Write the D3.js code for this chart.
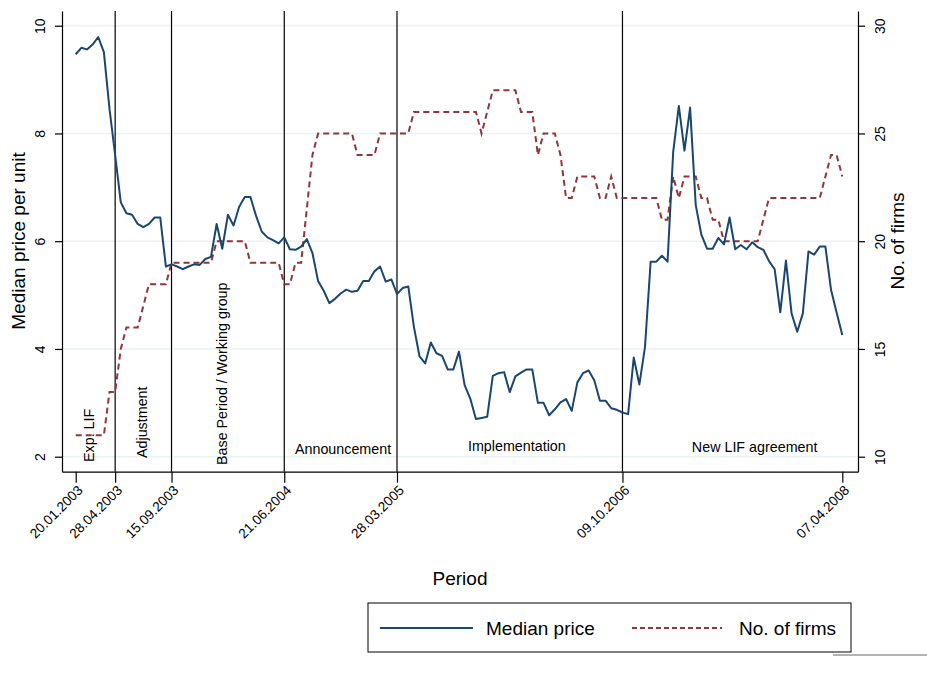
<!DOCTYPE html>
<html lang="en">
<head>
<meta charset="UTF-8">
<title>Median price and number of firms</title>
<script src="https://d3js.org/d3.v7.min.js"></script>
<style>
  body { margin: 0; background: #fff; }
  svg text { font-family: "Liberation Sans", Arial, sans-serif; fill: #000; }
</style>
</head>
<body>
<svg id="chart"></svg>
<script>
// biweekly observations
const dates = [
  "2003-01-20","2003-02-03","2003-02-17","2003-03-03","2003-03-17","2003-03-31","2003-04-14","2003-04-28","2003-05-12","2003-05-26",
  "2003-06-09","2003-06-23","2003-07-07","2003-07-21","2003-08-04","2003-08-18","2003-09-01","2003-09-15","2003-09-29","2003-10-13",
  "2003-10-27","2003-11-10","2003-11-24","2003-12-08","2003-12-22","2004-01-05","2004-01-19","2004-02-02","2004-02-16","2004-03-01",
  "2004-03-15","2004-03-29","2004-04-12","2004-04-26","2004-05-10","2004-05-24","2004-06-07","2004-06-21","2004-07-05","2004-07-19",
  "2004-08-02","2004-08-16","2004-08-30","2004-09-13","2004-09-27","2004-10-11","2004-10-25","2004-11-08","2004-11-22","2004-12-06",
  "2004-12-20","2005-01-03","2005-01-17","2005-01-31","2005-02-14","2005-02-28","2005-03-14","2005-03-28","2005-04-11","2005-04-25",
  "2005-05-09","2005-05-23","2005-06-06","2005-06-20","2005-07-04","2005-07-18","2005-08-01","2005-08-15","2005-08-29","2005-09-12",
  "2005-09-26","2005-10-10","2005-10-24","2005-11-07","2005-11-21","2005-12-05","2005-12-19","2006-01-02","2006-01-16","2006-01-30",
  "2006-02-13","2006-02-27","2006-03-13","2006-03-27","2006-04-10","2006-04-24","2006-05-08","2006-05-22","2006-06-05","2006-06-19",
  "2006-07-03","2006-07-17","2006-07-31","2006-08-14","2006-08-28","2006-09-11","2006-09-25","2006-10-09","2006-10-23","2006-11-06",
  "2006-11-20","2006-12-04","2006-12-18","2007-01-01","2007-01-15","2007-01-29","2007-02-12","2007-02-26","2007-03-12","2007-03-26",
  "2007-04-09","2007-04-23","2007-05-07","2007-05-21","2007-06-04","2007-06-18","2007-07-02","2007-07-16","2007-07-30","2007-08-13",
  "2007-08-27","2007-09-10","2007-09-24","2007-10-08","2007-10-22","2007-11-05","2007-11-19","2007-12-03","2007-12-17","2007-12-31",
  "2008-01-14","2008-01-28","2008-02-11","2008-02-25","2008-03-10","2008-03-24","2008-04-07"
];

const medianPrice = [
  9.47,9.59,9.56,9.65,9.79,9.51,8.45,7.6,6.72,6.52,
  6.49,6.32,6.26,6.32,6.44,6.44,5.53,5.57,5.53,5.48,
  5.53,5.57,5.56,5.67,5.71,6.32,5.86,6.49,6.29,6.64,
  6.82,6.82,6.47,6.18,6.07,6.02,5.96,6.07,5.85,5.84,
  5.90,6.04,5.78,5.26,5.08,4.85,4.93,5.03,5.10,5.06,
  5.08,5.26,5.26,5.44,5.53,5.25,5.29,5.02,5.13,5.16,
  4.41,3.86,3.73,4.12,3.92,3.87,3.62,3.62,3.95,3.33,
  3.08,2.70,2.72,2.74,3.50,3.55,3.57,3.20,3.49,3.56,
  3.62,3.62,3.00,3.00,2.77,2.88,3.01,3.07,2.85,3.38,
  3.55,3.60,3.42,3.04,3.04,2.90,2.87,2.82,2.79,3.84,
  3.34,4.04,5.62,5.62,5.73,5.62,7.66,8.51,7.68,8.48,
  6.67,6.12,5.86,5.86,6.06,5.94,6.44,5.85,5.93,5.85,
  5.98,5.89,5.84,5.63,5.48,4.68,5.64,4.66,4.32,4.66,
  5.81,5.75,5.90,5.90,5.10,4.67,4.26
];

const noOfFirms = [
  11,11,11,11,11,11,13,13,15,16,
  16,16,17,18,18,18,18,19,19,19,
  19,19,19,19,19,20,20,20,20,20,
  20,19,19,19,19,19,19,18,18,19,
  19,21.5,24,25,25,25,25,25,25,25,
  24,24,24,24,25,25,25,25,25,25,
  26,26,26,26,26,26,26,26,26,26,
  26,26,25,26,27,27,27,27,27,26,
  26,26,24,25,25,25,24,22,22,23,
  23,23,23,22,22,23,22,22,22,22,
  22,22,22,22,21,21,23,22,23,23,
  23,22,22,21,21,20,20,20,20,20,
  20,20,21,22,22,22,22,22,22,22,
  22,22,22,23,24,24,23
];

const tickDates = ["2003-01-20","2003-04-28","2003-09-15","2004-06-21","2005-03-28","2006-10-09","2008-04-07"];
const eventDates = ["2003-04-28","2003-09-15","2004-06-21","2005-03-28","2006-10-09"];
const priceTicks = [2, 4, 6, 8, 10];
const firmTicks = [10, 15, 20, 25, 30];
const phaseLabels = ["Exp. LIF", "Adjustment", "Base Period / Working group", "Announcement", "Implementation", "New LIF agreement"];
const seriesNames = ["Median price", "No. of firms"];

const width = 927, height = 673;
const plot = {left: 62, right: 858, top: 11, bottom: 471.7};
const navy = "#1a476f", maroon = "#90353b";

const parse = d3.timeParse("%Y-%m-%d");
const fmt = d3.timeFormat("%d.%m.%Y");

const svg = d3.select("#chart").attr("width", width).attr("height", height);

// time scale: first and last tick placed, then stretched to the plot edges
const x = d3.scaleTime()
  .domain([parse(tickDates[0]), parse(tickDates[tickDates.length - 1])])
  .range([75.7, 842.3]);
x.domain([x.invert(plot.left), x.invert(plot.right)]).range([plot.left, plot.right]);

const yP = d3.scaleLinear().domain([2, 10]).range([456.7, 25.7]);
yP.domain([yP.invert(plot.bottom), yP.invert(plot.top)]).range([plot.bottom, plot.top]);

const yF = d3.scaleLinear().domain([10, 30]).range([456.7, 25.7]);
yF.domain([yF.invert(plot.bottom), yF.invert(plot.top)]).range([plot.bottom, plot.top]);

const rows = dates.map((d, i) => ({date: parse(d), price: medianPrice[i], firms: noOfFirms[i]}));

// grid lines
svg.append("g").selectAll("line")
  .data(priceTicks).enter().append("line")
  .attr("x1", plot.left).attr("x2", plot.right)
  .attr("y1", d => yP(d)).attr("y2", d => yP(d))
  .attr("stroke", "#eaf2f3").attr("stroke-width", 1.5);

// event lines
svg.append("g").selectAll("line")
  .data(eventDates).enter().append("line")
  .attr("x1", d => x(parse(d))).attr("x2", d => x(parse(d)))
  .attr("y1", plot.top).attr("y2", plot.bottom)
  .attr("stroke", "#000").attr("stroke-width", 1.2);

// phase labels
const vertLabels = [
  {i: 0, x: x(parse(tickDates[0])) + 13.6, y: 462},
  {i: 1, x: x(parse(eventDates[0])) + 26.5, y: 458},
  {i: 2, x: x(parse(eventDates[1])) + 50.8, y: 465}
];
svg.append("g").selectAll("text")
  .data(vertLabels).enter().append("text")
  .attr("transform", d => `translate(${d.x},${d.y}) rotate(-90)`)
  .attr("dy", "0.35em")
  .style("font-size", "14.3px")
  .text(d => phaseLabels[d.i]);

const horLabels = [
  {i: 3, x: x(parse(eventDates[2])) + 10.7, y: 454},
  {i: 4, x: x(parse(eventDates[3])) + 71, y: 450.5},
  {i: 5, x: x(parse(eventDates[4])) + 69.4, y: 452}
];
svg.append("g").selectAll("text")
  .data(horLabels).enter().append("text")
  .attr("x", d => d.x).attr("y", d => d.y)
  .style("font-size", "14.3px")
  .text(d => phaseLabels[d.i]);

// series
const priceLine = d3.line().x(d => x(d.date)).y(d => yP(d.price));
const firmsLine = d3.line().x(d => x(d.date)).y(d => yF(d.firms));

svg.append("path").datum(rows)
  .attr("d", firmsLine)
  .attr("fill", "none").attr("stroke", maroon)
  .attr("stroke-width", 2).attr("stroke-dasharray", "6,4");

svg.append("path").datum(rows)
  .attr("d", priceLine)
  .attr("fill", "none").attr("stroke", navy)
  .attr("stroke-width", 2).attr("stroke-linejoin", "round");

// axes
const axLeft = svg.append("g")
  .attr("transform", `translate(${plot.left},0)`)
  .call(d3.axisLeft(yP).tickValues(priceTicks).tickSize(7).tickSizeOuter(0));
axLeft.selectAll("text")
  .attr("x", 0).attr("y", 0)
  .attr("transform", "translate(-22,0) rotate(-90)")
  .attr("text-anchor", "middle").attr("dy", "0.35em")
  .style("font-size", "14px");

const axRight = svg.append("g")
  .attr("transform", `translate(${plot.right},0)`)
  .call(d3.axisRight(yF).tickValues(firmTicks).tickSize(7).tickSizeOuter(0));
axRight.selectAll("text")
  .attr("x", 0).attr("y", 0)
  .attr("transform", "translate(22,0) rotate(-90)")
  .attr("text-anchor", "middle").attr("dy", "0.35em")
  .style("font-size", "14px");

const axBottom = svg.append("g")
  .attr("transform", `translate(0,${plot.bottom})`)
  .call(d3.axisBottom(x).tickValues(tickDates.map(parse)).tickFormat(fmt).tickSize(11).tickSizeOuter(0));
axBottom.selectAll("text")
  .attr("x", 0).attr("y", 0)
  .attr("transform", "translate(4,16) rotate(-45)")
  .attr("text-anchor", "end").attr("dy", "0.35em")
  .style("font-size", "13.6px");

svg.selectAll(".domain, .tick line").attr("stroke", "#000").attr("stroke-width", 1.2);
svg.selectAll(".tick text").attr("fill", "#000").style("font-family", "'Liberation Sans', Arial, sans-serif");

// axis titles
svg.append("text")
  .attr("transform", "translate(18,241) rotate(-90)")
  .attr("text-anchor", "middle").attr("dy", "0.35em")
  .style("font-size", "19px")
  .text("Median price per unit");

svg.append("text")
  .attr("transform", "translate(897,241) rotate(-90)")
  .attr("text-anchor", "middle").attr("dy", "0.35em")
  .style("font-size", "19px")
  .text("No. of firms");

svg.append("text")
  .attr("x", 460).attr("y", 578)
  .attr("text-anchor", "middle").attr("dy", "0.35em")
  .style("font-size", "19px")
  .text("Period");

// legend
const lg = svg.append("g");
lg.append("rect")
  .attr("x", 368).attr("y", 603).attr("width", 483).attr("height", 49)
  .attr("fill", "#fff").attr("stroke", "#000").attr("stroke-width", 1);
lg.append("line")
  .attr("x1", 380).attr("x2", 473).attr("y1", 628).attr("y2", 628)
  .attr("stroke", navy).attr("stroke-width", 2);
lg.append("text")
  .attr("x", 486).attr("y", 628).attr("dy", "0.35em")
  .style("font-size", "19px").text(seriesNames[0]);
lg.append("line")
  .attr("x1", 632).attr("x2", 722).attr("y1", 628).attr("y2", 628)
  .attr("stroke", maroon).attr("stroke-width", 2).attr("stroke-dasharray", "5,3");
lg.append("text")
  .attr("x", 739).attr("y", 628).attr("dy", "0.35em")
  .style("font-size", "19px").text(seriesNames[1]);

// faint mark in the bottom corner
svg.append("line")
  .attr("x1", 833).attr("x2", 927).attr("y1", 655).attr("y2", 655)
  .attr("stroke", "#999").attr("stroke-width", 1.5);
</script>
</body>
</html>
